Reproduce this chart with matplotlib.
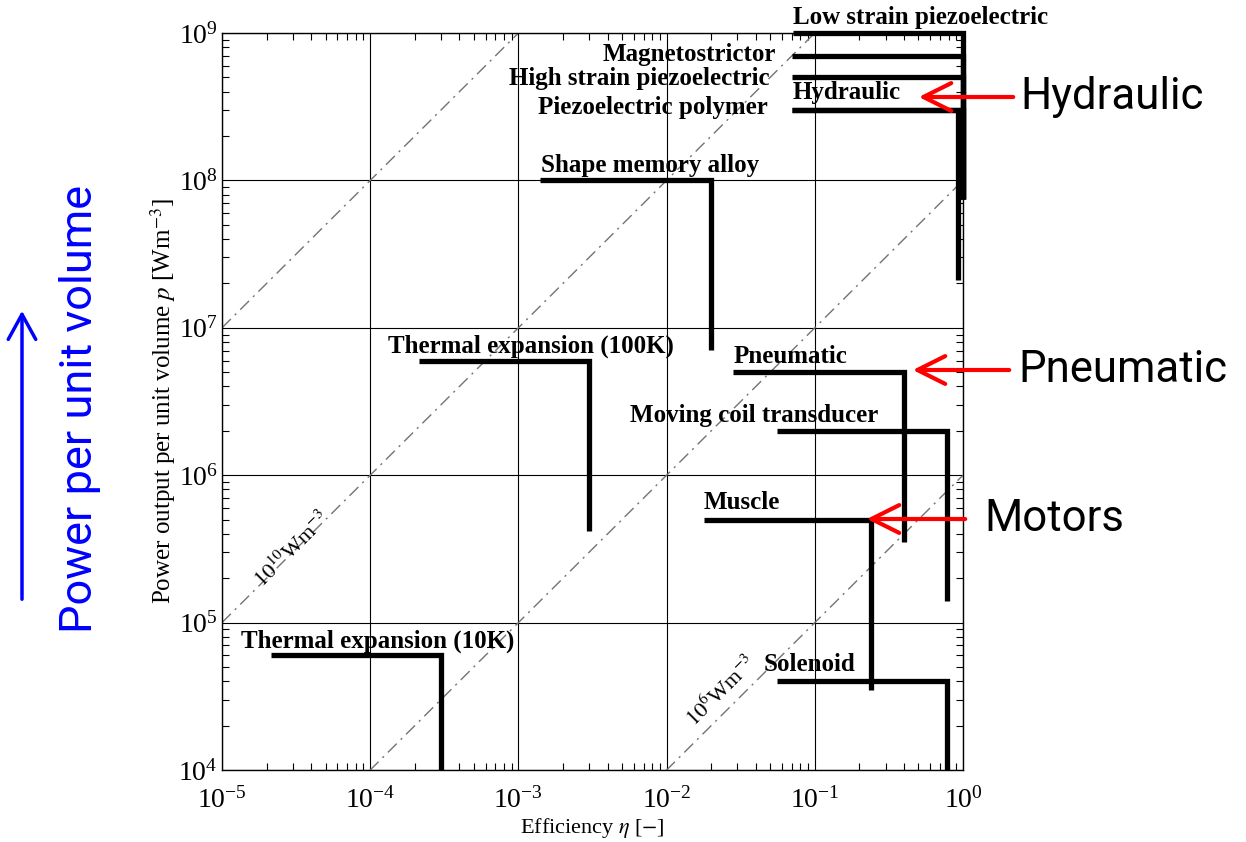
import numpy as np
import matplotlib.pyplot as plt
from matplotlib.patches import FancyArrowPatch

# actuator envelopes: horizontal at p_max from eta_min to eta_max, vertical at eta_max down to p_min
names = ['Low strain piezoelectric', 'Magnetostrictor', 'High strain piezoelectric',
         'Piezoelectric polymer', 'Hydraulic', 'Shape memory alloy',
         'Thermal expansion (100K)', 'Pneumatic', 'Moving coil transducer',
         'Muscle', 'Thermal expansion (10K)', 'Solenoid']
eta_min = [0.071, 0.070, 0.070, 0.070, 0.070, 1.4e-3, 2.15e-4, 2.8e-2, 5.6e-2, 1.8e-2, 2.15e-5, 5.6e-2]
eta_max = [1.0, 1.0, 1.0, 1.0, 0.93, 2.0e-2, 3.0e-3, 0.40, 0.78, 0.24, 3.0e-4, 0.78]
p_max = [1.0e9, 7.0e8, 5.0e8, 3.0e8, 3.0e8, 1.0e8, 6.0e6, 5.0e6, 2.0e6, 5.0e5, 6.0e4, 4.0e4]
p_min = [7.5e7, 7.5e7, 7.5e7, 7.5e7, 2.1e7, 7.1e6, 4.2e5, 3.5e5, 1.4e5, 3.5e4, 1.0e4, 1.0e4]

# constant power-density-per-efficiency lines p = C * eta
diag_C = [1e6, 1e8, 1e10, 1e12]

# label layout (data coords, alignment)
label_eta = [0.0713, 0.0547, 0.0499, 0.0483, 0.0713, 1.42e-3, 1.32e-4, 0.0285, 5.66e-3, 0.0179, 1.34e-5, 0.0454]
label_p = [1.28e9, 7.2e8, 4.95e8, 3.1e8, 3.92e8, 1.27e8, 7.5e6, 6.4e6, 2.56e6, 6.5e5, 7.5e4, 5.2e4]
label_ha = ['left', 'right', 'right', 'right', 'left', 'left', 'left', 'left', 'left', 'left', 'left', 'left']

W, H = 1246, 842
plt.rcParams['font.family'] = ['Liberation Serif', 'DejaVu Serif']
plt.rcParams['mathtext.fontset'] = 'stix'

fig = plt.figure(figsize=(W / 100, H / 100), dpi=100)
ax = fig.add_axes([222 / W, 1 - 770 / H, (963 - 222) / W, (770 - 33) / H])
ax.set_xscale('log')
ax.set_yscale('log')
ax.set_xlim(1e-5, 1)
ax.set_ylim(1e4, 1e9)

ax.grid(True, which='major', color='black', lw=0.8)
ax.tick_params(which='both', direction='in', top=True, right=True)
ax.tick_params(which='major', length=0, labelsize=20)
ax.tick_params(axis='x', which='major', pad=12)
ax.tick_params(axis='y', which='major', pad=3)
ax.tick_params(which='minor', length=5, width=0.8)
for s in ax.spines.values():
    s.set_linewidth(1.0)

# diagonal reference lines
ex = np.array([1e-5, 1.0])
for C in diag_C:
    ax.plot(ex, C * ex, color='0.45', lw=1.0, dashes=(9, 4, 1.5, 4))

ax.text(3.0e-5, 3.1e5, r'$10^{10}$Wm$^{-3}$', rotation=45, fontsize=16,
        ha='center', va='center')
ax.text(2.35e-2, 3.4e4, r'$10^{6}$Wm$^{-3}$', rotation=45, fontsize=16,
        ha='center', va='center')

for i, n in enumerate(names):
    ax.plot([eta_min[i], eta_max[i], eta_max[i]], [p_max[i], p_max[i], p_min[i]],
            color='black', lw=3.8, solid_joinstyle='miter', solid_capstyle='butt',
            clip_on=False, zorder=4)
    ax.text(label_eta[i], label_p[i], n, ha=label_ha[i], va='center',
            fontsize=18, fontweight='bold', zorder=5)

ax.set_xlabel(r'Efficiency $\eta$ [$-$]', fontsize=16, labelpad=2)
ax.set_ylabel(r'Power output per unit volume $p$ [Wm$^{-3}$]', fontsize=18, labelpad=0)


def fp(x, y):
    return (x / W, 1 - y / H)


sans = ['Roboto', 'DejaVu Sans']
# red pointers on the right
for txt, tx, ty, x0, x1 in [('Hydraulic', 1020, 97, 1016, 916),
                            ('Pneumatic', 1018, 370, 1012, 910),
                            ('Motors', 984, 519, 968, 864)]:
    fig.text(*fp(tx, ty), txt, family=sans, fontsize=31.5, ha='left', va='center')
    fig.add_artist(FancyArrowPatch(fp(x0, ty), fp(x1, ty), transform=fig.transFigure,
                                   arrowstyle='->,head_length=1.0,head_width=0.5',
                                   mutation_scale=20, color='red', lw=3))

# blue axis annotation on the left
fig.text(*fp(80, 409), 'Power per unit volume', family=sans, fontsize=32.5,
         color='blue', rotation=90, ha='center', va='center')
fig.add_artist(FancyArrowPatch(fp(22, 602), fp(22, 308), transform=fig.transFigure,
                               arrowstyle='->,head_length=1.0,head_width=0.55',
                               mutation_scale=18, color='blue', lw=2.5))

fig.savefig('out.png', dpi=100)
